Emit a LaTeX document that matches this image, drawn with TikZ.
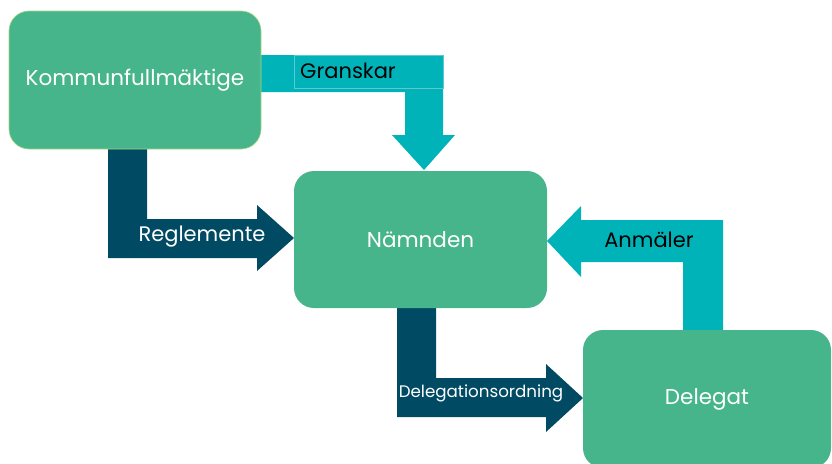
\documentclass[tikz,border=0pt]{standalone}
\usepackage{fontspec}
\setmainfont{Poppins}
\definecolor{kgreen}{HTML}{47B58C}
\definecolor{kteal}{HTML}{00B3B9}
\definecolor{kdark}{HTML}{004B63}
\definecolor{kedge}{HTML}{A6D585}
\definecolor{klteal}{HTML}{5EC8D0}
\begin{document}
\begin{tikzpicture}[x=1pt,y=-1pt,
  box/.style={fill=kgreen, rounded corners=20pt, inner sep=0pt, text=white,
    font=\fontsize{21.5}{25}\selectfont},
  lab/.style={inner sep=0pt, font=\fontsize{21}{25}\selectfont}]
\useasboundingbox (0,0) rectangle (832,463);
\clip (0,0) rectangle (832,463);
% block arrows
\fill[kteal] (261,55) -- (443,55) -- (443,135) -- (455,135) -- (424,170) -- (392,135) -- (405,135) -- (405,92) -- (261,92) -- cycle;
\fill[kdark] (108,149) -- (147,149) -- (147,219) -- (257,219) -- (257,205) -- (294,238) -- (257,271) -- (257,258) -- (108,258) -- cycle;
\fill[kdark] (397,308) -- (436,308) -- (436,378) -- (546,378) -- (546,364) -- (583,398) -- (546,432) -- (546,417) -- (397,417) -- cycle;
\fill[kteal] (683,330) -- (683,262) -- (581,262) -- (581,277) -- (547,241) -- (581,206) -- (581,220) -- (723,220) -- (723,330) -- cycle;
% boxes
\node[box, draw=kedge, line width=0.6pt, minimum width=252pt, minimum height=138pt] (k) at (135,80) {Kommunfullmäktige};
\node[box, minimum width=253pt, minimum height=137pt] (n) at (420.5,239.5) {Nämnden};
\node[box, minimum width=248pt, minimum height=138pt] (d) at (707,399) {Delegat};
% labels
\node[draw=klteal, line width=0.4pt, minimum width=149pt, minimum height=33pt, anchor=north west, inner sep=0pt] (gbox) at (294,55) {};
\node[lab, anchor=west] (g) at (300,71) {Granskar};
\node[lab, text=white] (r) at (202,237) {Reglemente};
\node[lab, text=white, font=\fontsize{16.7}{20}\selectfont] (dl) at (481,393) {Delegationsordning};
\node[lab] (a) at (649,240) {Anmäler};
\end{tikzpicture}
\end{document}
